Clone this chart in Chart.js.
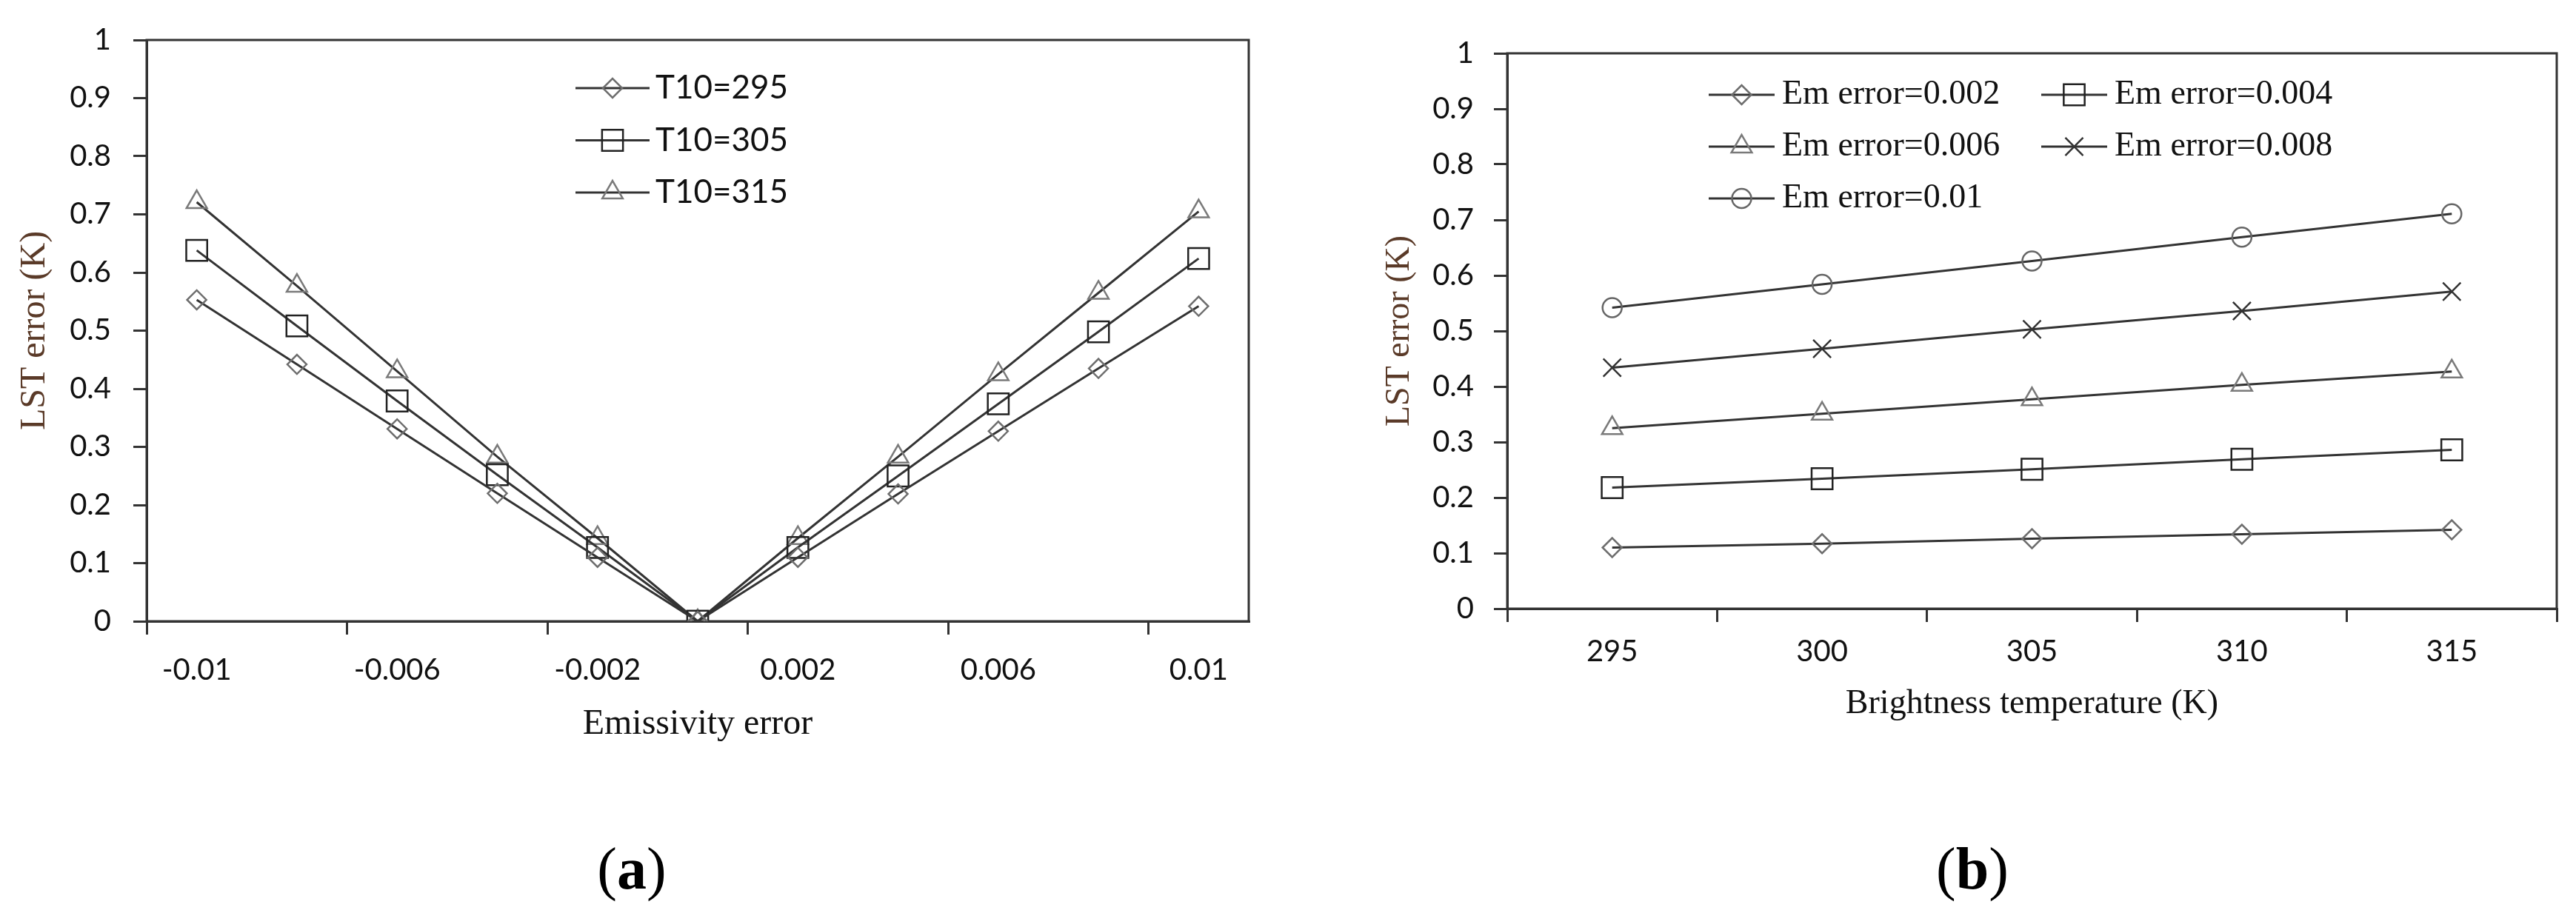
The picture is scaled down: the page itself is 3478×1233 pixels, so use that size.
<!DOCTYPE html>
<html lang="en">
<head>
  <meta charset="utf-8">
  <title>LST error vs emissivity error and brightness temperature</title>
  <style>
    html, body { margin: 0; padding: 0; background: #fff; }
    body { width: 3478px; height: 1233px; position: relative; overflow: hidden; }
    canvas { position: absolute; top: 0; }
    #chartA { left: 0; }
    #chartB { left: 1750px; }
    .caption {
      position: absolute; top: 1173px; transform: translate(-50%, -50%);
      font-family: "Liberation Serif", "Times New Roman", serif; font-size: 80px; line-height: 1; color: #000;
    }
  </style>
</head>
<body>
  <canvas id="chartA" width="1740" height="1060"></canvas>
  <canvas id="chartB" width="1728" height="1060"></canvas>
  <div class="caption" style="left: 853px;">(<b>a</b>)</div>
  <div class="caption" style="left: 2663px;">(<b>b</b>)</div>

  <script src="https://cdn.jsdelivr.net/npm/chart.js/dist/chart.umd.min.js"></script>
  <script>
    // chart (a) data
    const emErrors = ['-0.01', '-0.008', '-0.006', '-0.004', '-0.002', '0', '0.002', '0.004', '0.006', '0.008', '0.01'];
    const lst295 = [0.553, 0.442, 0.331, 0.220, 0.110, 0, 0.110, 0.219, 0.327, 0.435, 0.542];
    const lst305 = [0.638, 0.508, 0.379, 0.252, 0.127, 0, 0.127, 0.250, 0.374, 0.498, 0.624];
    const lst315 = [0.721, 0.577, 0.430, 0.283, 0.143, 0, 0.143, 0.283, 0.425, 0.565, 0.705];

    // chart (b) data
    const brightTemps = ['295', '300', '305', '310', '315'];
    const em002 = [0.110, 0.117, 0.126, 0.134, 0.142];
    const em004 = [0.218, 0.234, 0.251, 0.269, 0.286];
    const em006 = [0.325, 0.351, 0.377, 0.403, 0.427];
    const em008 = [0.434, 0.468, 0.503, 0.536, 0.571];
    const em010 = [0.542, 0.584, 0.626, 0.669, 0.711];

    const yTicks = [0, 0.1, 0.2, 0.3, 0.4, 0.5, 0.6, 0.7, 0.8, 0.9, 1];

    const axisColor = '#333';
    const tickFont = { family: 'Lato', size: 40 };
    const serif = 'Liberation Serif';

    // box round the plot area (top and right edges)
    const areaBorder = {
      id: 'areaBorder',
      beforeDatasetsDraw(chart) {
        const { ctx, chartArea: a } = chart;
        ctx.save();
        ctx.strokeStyle = axisColor;
        ctx.lineWidth = 3;
        ctx.strokeRect(a.left, a.top, a.right - a.left, a.bottom - a.top);
        ctx.restore();
      }
    };

    // legend drawn inside the plot, line + marker like the original
    const insideLegend = {
      id: 'insideLegend',
      afterDatasetsDraw(chart, args, opts) {
        const ctx = chart.ctx;
        ctx.save();
        ctx.textBaseline = 'middle';
        ctx.font = opts.font;
        chart.data.datasets.forEach((ds, i) => {
          const col = i % opts.columns;
          const row = Math.floor(i / opts.columns);
          const x = opts.x + col * opts.colWidth;
          const y = opts.y + row * opts.rowHeight;
          ctx.strokeStyle = ds.borderColor;
          ctx.lineWidth = ds.borderWidth;
          ctx.beginPath();
          ctx.moveTo(x, y);
          ctx.lineTo(x + opts.lineLength, y);
          ctx.stroke();
          ctx.strokeStyle = ds.pointBorderColor;
          ctx.fillStyle = 'rgba(0,0,0,0)';
          ctx.lineWidth = ds.pointBorderWidth;
          Chart.helpers.drawPoint(ctx, {
            pointStyle: ds.pointStyle, radius: ds.pointRadius,
            borderWidth: ds.pointBorderWidth, rotation: 0
          }, x + opts.lineLength / 2, y);
          ctx.fillStyle = '#111';
          ctx.fillText(ds.label, x + opts.lineLength + opts.gap, y);
        });
        ctx.restore();
      }
    };

    function series(label, values, style, radius, markColor) {
      return {
        label: label,
        data: values,
        borderColor: axisColor,
        borderWidth: 3,
        pointStyle: style,
        pointRadius: radius,
        pointBorderColor: markColor,
        pointBackgroundColor: 'rgba(0,0,0,0)',
        pointBorderWidth: 2.5,
        tension: 0
      };
    }

    function yAxis(width, pad, titleFont, titlePad) {
      return {
        min: 0,
        max: 1,
        afterFit: (s) => { s.width = width; },
        afterBuildTicks: (s) => { s.ticks = yTicks.map((v) => ({ value: v })); },
        ticks: { font: tickFont, color: '#111', padding: pad, callback: (v) => String(+v.toFixed(1)) },
        grid: { drawOnChartArea: false, drawTicks: true, tickLength: 18, tickWidth: 3, lineWidth: 3, tickColor: axisColor },
        border: { color: axisColor, width: 3 },
        title: {
          display: true, text: 'LST error (K)', color: '#5a3a28',
          font: { family: serif, size: titleFont }, padding: { top: titlePad, bottom: 0 }
        }
      };
    }

    const baseOptions = {
      responsive: false,
      animation: false,
      events: [],
      plugins: { legend: { display: false }, tooltip: { enabled: false } }
    };

    // chart (a)
    new Chart(document.getElementById('chartA'), {
      type: 'line',
      data: {
        labels: emErrors,
        datasets: [
          series('T10=295', lst295, 'rectRot', 13, '#6e6e6e'),
          series('T10=305', lst305, 'rect', 20, '#222'),
          series('T10=315', lst315, 'triangle', 16, '#7a7a7a')
        ]
      },
      options: {
        ...baseOptions,
        layout: { padding: { top: 38, right: 54, left: 0, bottom: 0 } },
        plugins: {
          ...baseOptions.plugins,
          insideLegend: { x: 777, y: 119, columns: 1, colWidth: 0, rowHeight: 70.5, lineLength: 100, gap: 8, font: '44px Lato' }
        },
        scales: {
          x: {
            type: 'category',
            offset: true,
            afterFit: (s) => { s.height = 221; },
            ticks: {
              font: tickFont, color: '#111', padding: 24, autoSkip: false, maxRotation: 0,
              callback: (v, i) => (i % 2 === 0 ? emErrors[i] : '')
            },
            grid: {
              offset: true, drawOnChartArea: false, drawTicks: true, tickLength: 18, tickWidth: 3, lineWidth: 3,
              tickColor: (c) => (c.index !== undefined && c.index % 2 === 0 ? axisColor : 'rgba(0,0,0,0)')
            },
            border: { color: axisColor, width: 3 },
            title: {
              display: true, text: 'Emissivity error', color: '#111',
              font: { family: serif, size: 48 }, padding: { top: 0, bottom: 53 }
            }
          },
          y: yAxis(198, 30, 48, 19)
        }
      },
      plugins: [areaBorder, insideLegend]
    });

    // chart (b)
    new Chart(document.getElementById('chartB'), {
      type: 'line',
      data: {
        labels: brightTemps,
        datasets: [
          series('Em error=0.002', em002, 'rectRot', 13, '#6e6e6e'),
          series('Em error=0.004', em004, 'rect', 20, '#222'),
          series('Em error=0.006', em006, 'triangle', 16, '#7a7a7a'),
          series('Em error=0.008', em008, 'crossRot', 17, '#333'),
          series('Em error=0.01', em010, 'circle', 13, '#666')
        ]
      },
      options: {
        ...baseOptions,
        layout: { padding: { top: 72, right: 26, left: 0, bottom: 0 } },
        plugins: {
          ...baseOptions.plugins,
          insideLegend: { x: 557, y: 128, columns: 2, colWidth: 449, rowHeight: 70, lineLength: 89, gap: 10, font: '46px "Liberation Serif"' }
        },
        scales: {
          x: {
            type: 'category',
            offset: true,
            afterFit: (s) => { s.height = 238; },
            ticks: { font: tickFont, color: '#111', padding: 16, autoSkip: false, maxRotation: 0 },
            grid: { offset: true, drawOnChartArea: false, drawTicks: true, tickLength: 18, tickWidth: 3, lineWidth: 3, tickColor: axisColor },
            border: { color: axisColor, width: 3 },
            title: {
              display: true, text: 'Brightness temperature (K)', color: '#111',
              font: { family: serif, size: 46 }, padding: { top: 0, bottom: 81 }
            }
          },
          y: yAxis(285, 27, 46, 112)
        }
      },
      plugins: [areaBorder, insideLegend]
    });
  </script>
</body>
</html>
